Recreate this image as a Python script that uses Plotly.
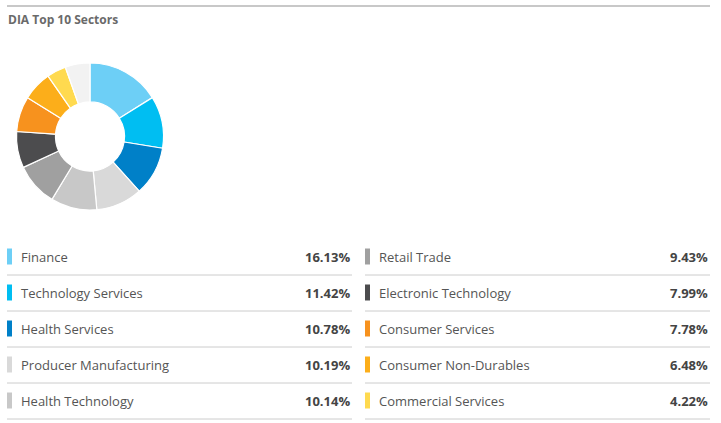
import plotly.graph_objects as go

sectors = ["Finance", "Technology Services", "Health Services", "Producer Manufacturing",
           "Health Technology", "Retail Trade", "Electronic Technology", "Consumer Services",
           "Consumer Non-Durables", "Commercial Services"]
weights = [16.13, 11.42, 10.78, 10.19, 10.14, 9.43, 7.99, 7.78, 6.48, 4.22]
colors = ["#6DCFF6", "#00BEF2", "#0080C8", "#D9D9D9", "#C8C8C8", "#A0A0A0",
          "#4C4C4E", "#F7921E", "#FCAE1A", "#FFDA4F"]
other_label = "Other"
other_color = "#F2F2F2"
title = "DIA Top 10 Sectors"

W, H = 721, 423
other_value = round(100 - sum(weights), 2)

fig = go.Figure()
fig.add_trace(go.Pie(
    labels=sectors + [other_label],
    values=weights + [other_value],
    marker=dict(colors=colors + [other_color], line=dict(color="white", width=1.2)),
    hole=0.47,
    sort=False,
    direction="clockwise",
    rotation=0,
    textinfo="none",
    hoverinfo="label+percent",
    showlegend=False,
    domain=dict(x=[16 / W, 164 / W], y=[1 - 210 / H, 1 - 63 / H]),
))

shapes = []
annotations = []

# top rule and title
shapes.append(dict(type="line", xref="paper", yref="paper", x0=7 / W, x1=710 / W,
                   y0=1 - 6 / H, y1=1 - 6 / H, line=dict(color="#C8C8C8", width=2)))
annotations.append(dict(text="<b>" + title + "</b>", xref="paper", yref="paper",
                        x=5.5 / W, y=1 - 20 / H, xanchor="left", yanchor="middle",
                        showarrow=False, font=dict(family="Open Sans", size=12, color="#6A6A6A")))

# legend table
rows_per_col = 5
row_h = 36
first_center = 256.5
col_x = [(7, 18.5, 351, 352), (365, 376.5, 709, 710)]
for i, (name, val, col) in enumerate(zip(sectors, weights, colors)):
    c = i // rows_per_col
    r = i % rows_per_col
    x0, xt, xv, xe = col_x[c]
    yc = first_center + r * row_h
    shapes.append(dict(type="rect", xref="paper", yref="paper",
                       x0=x0 / W, x1=(x0 + 5) / W, y0=1 - (yc + 8) / H, y1=1 - (yc - 8) / H,
                       fillcolor=col, line=dict(width=0)))
    ysep = yc + 18.5
    shapes.append(dict(type="line", xref="paper", yref="paper", x0=x0 / W, x1=xe / W,
                       y0=1 - ysep / H, y1=1 - ysep / H, line=dict(color="#CCCCCC", width=1)))
    annotations.append(dict(text=name, xref="paper", yref="paper", x=xt / W, y=1 - yc / H,
                            xanchor="left", yanchor="middle", showarrow=False,
                            font=dict(family="Open Sans", size=13, color="#555555")))
    annotations.append(dict(text="<b>%.2f%%</b>" % val, xref="paper", yref="paper",
                            x=(xv + 1) / W, y=1 - yc / H, xanchor="right", yanchor="middle",
                            showarrow=False,
                            font=dict(family="Open Sans", size=13, color="#444444")))

fig.update_layout(width=W, height=H, margin=dict(l=0, r=0, t=0, b=0),
                  paper_bgcolor="white", plot_bgcolor="white",
                  shapes=shapes, annotations=annotations)
fig.write_html("out.html", config={"displayModeBar": False},
               post_script="document.body.style.margin='0';document.body.style.overflow='hidden';")
